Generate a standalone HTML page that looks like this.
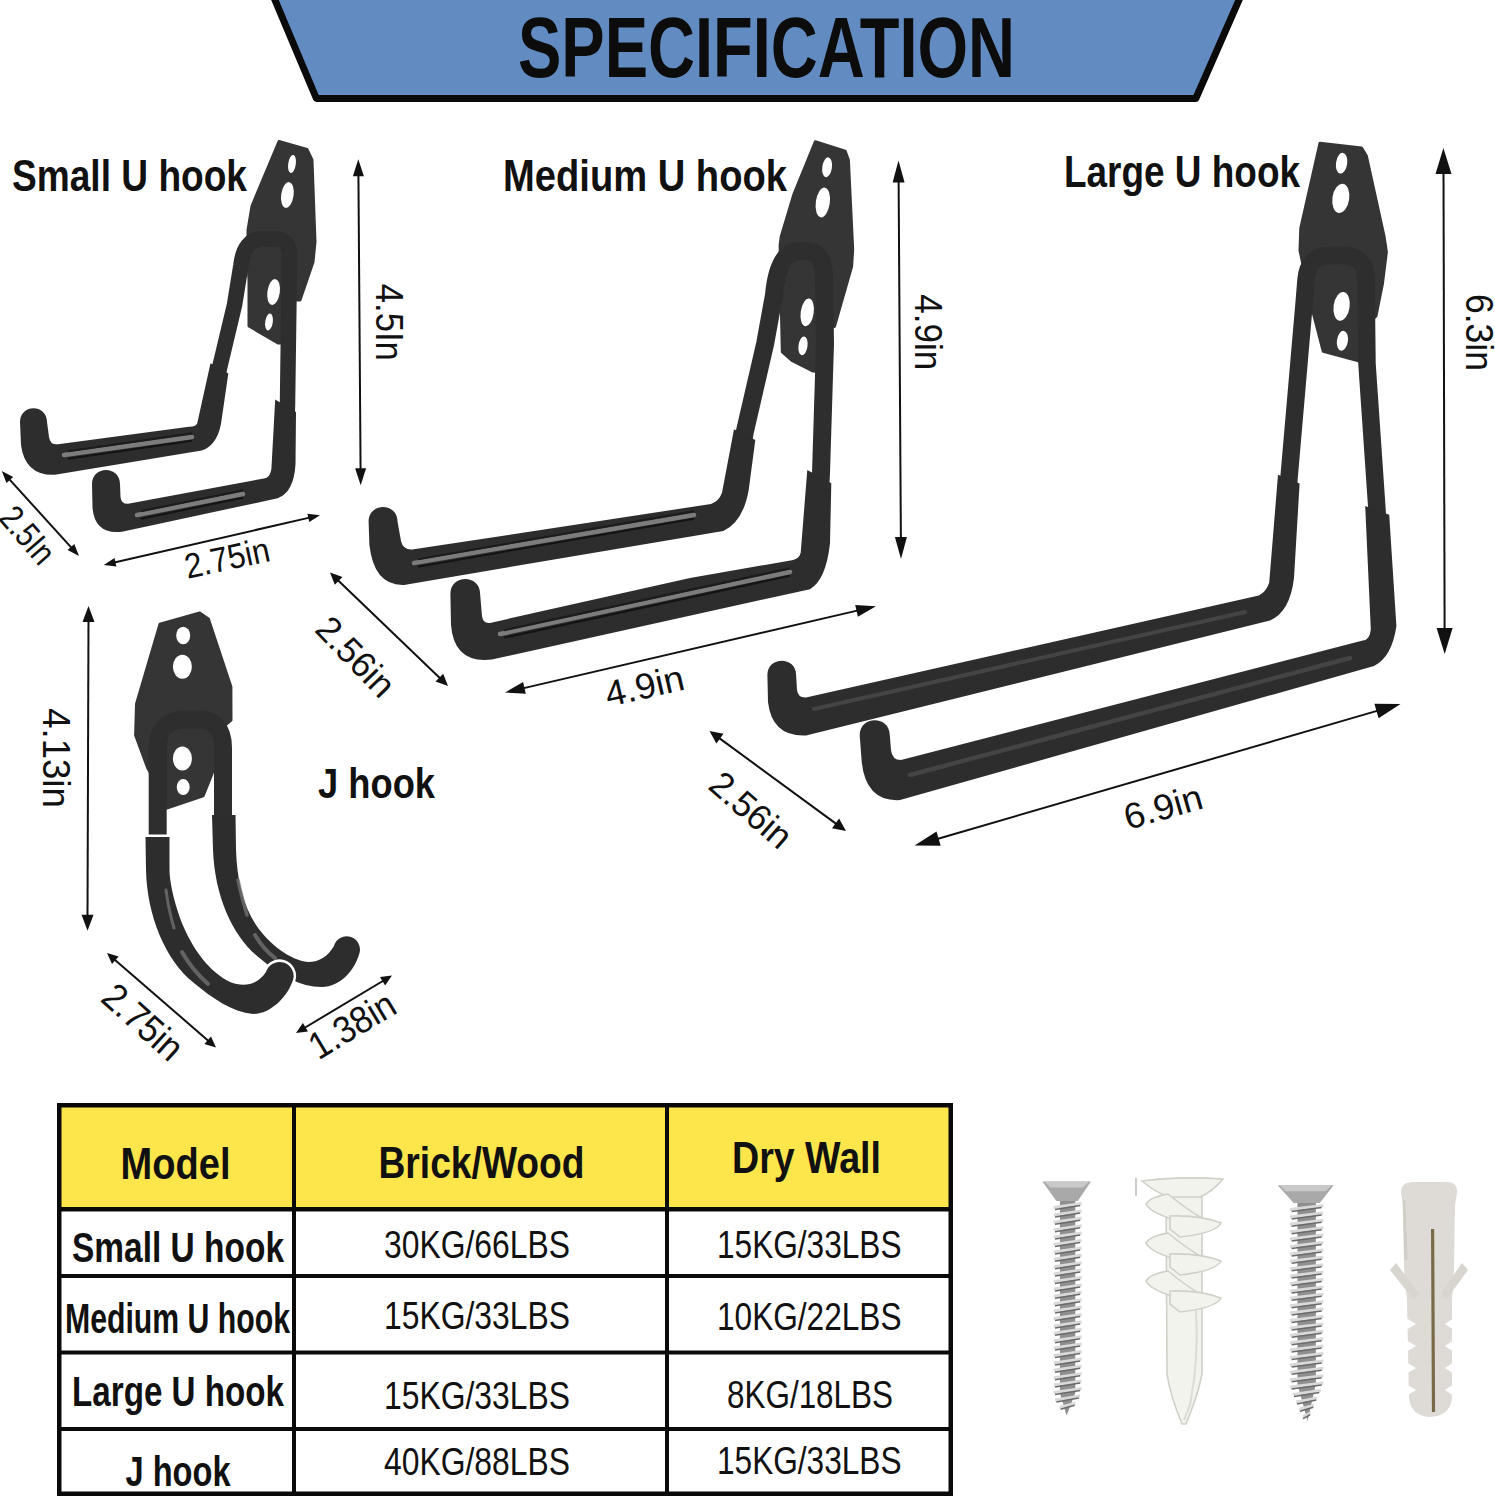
<!DOCTYPE html>
<html><head><meta charset="utf-8"><style>
html,body{margin:0;padding:0;background:#fff;}
body{width:1495px;height:1500px;overflow:hidden;}
svg{display:block;font-family:"Liberation Sans",sans-serif;}
</style></head><body>
<svg width="1495" height="1500" viewBox="0 0 1495 1500">
<rect width="1495" height="1500" fill="#fff"/>
<polygon points="271.6,-8 1242.5,-8 1195.8,98.5 316.4,98.5" fill="#628cc1" stroke="#0a0a0a" stroke-width="7" stroke-linejoin="round"/>
<text x="518" y="77" font-size="86" font-weight="bold" textLength="497" lengthAdjust="spacingAndGlyphs" fill="#0c0c0c">SPECIFICATION</text>
<text x="12" y="191" font-size="45" font-weight="bold" textLength="235" lengthAdjust="spacingAndGlyphs" fill="#111">Small U hook</text>
<text x="503" y="191" font-size="45" font-weight="bold" textLength="284" lengthAdjust="spacingAndGlyphs" fill="#111">Medium U hook</text>
<text x="1064" y="187" font-size="45" font-weight="bold" textLength="236" lengthAdjust="spacingAndGlyphs" fill="#111">Large U hook</text>
<text x="318" y="798" font-size="42" font-weight="bold" textLength="117" lengthAdjust="spacingAndGlyphs" fill="#111">J hook</text>
<polygon points="279,141.5 307,149.5 312,160 315,242 313,262 300,300 288,300 288,343 278,343 249,326 249,280 248,262 248,230 252,206" fill="#353535" stroke="#353535" stroke-width="3" stroke-linejoin="round"/>
<ellipse cx="292" cy="164" rx="3.8" ry="9" fill="#fff" transform="rotate(8 292 164)"/>
<ellipse cx="287.4" cy="195" rx="6.2" ry="13" fill="#fff" transform="rotate(8 287.4 195)"/>
<ellipse cx="273.6" cy="292" rx="6.2" ry="13" fill="#fff" transform="rotate(8 273.6 292)"/>
<ellipse cx="269" cy="322" rx="3.8" ry="8.5" fill="#fff" transform="rotate(8 269 322)"/>
<path d="M 217,382 L 219.5,368 L 234.5,305 L 241,265 Q 244,239 262,239 L 278,239 Q 289.5,240 289.5,258 L 287.5,404 L 287,420" fill="none" stroke="#2e2e2e" stroke-width="15.5" stroke-linecap="butt" stroke-linejoin="round"/>
<path d="M 210.5,363.3 L 197.2,423.5 Q 195,427 189,426.7 L 58,444.3 Q 50,445 49,437 L 47,422 C 47,403.5 20,403.5 20,422 L 21,445 Q 25,476 55,474.8 L 201.7,450.6 Q 219,445 222,417 L 228.3,373.4 Z" fill="#2d2d2d"/>
<path d="M 275.2,399.4 L 271.4,469 Q 270,478 263.8,478.5 L 128,503.8 Q 121,504 120.5,497 L 120,484 C 120,465.3 92,465.3 92,484 L 92.5,508 Q 95,535 122,531.7 L 277.7,498.3 Q 294,492 295.5,464 L 296,412 Z" fill="#2d2d2d"/>
<path d="M 64,455 L 192,437" fill="none" stroke="#7c7c7c" stroke-width="4.5" stroke-linecap="round"/>
<path d="M 68,458.75 L 192,440.75" fill="none" stroke="#141414" stroke-width="2"/>
<path d="M 68,451.25 L 192,433.25" fill="none" stroke="#1c1c1c" stroke-width="2"/>
<path d="M 137,515 L 243,494" fill="none" stroke="#7c7c7c" stroke-width="4.5" stroke-linecap="round"/>
<path d="M 141,518.75 L 243,497.75" fill="none" stroke="#141414" stroke-width="2"/>
<path d="M 141,511.25 L 243,490.25" fill="none" stroke="#1c1c1c" stroke-width="2"/>
<line x1="358.4" y1="172.8" x2="360.6" y2="471.7" stroke="#111" stroke-width="2"/>
<polygon points="358.3,159.2 352.9,176.2 363.9,176.2" fill="#111"/>
<polygon points="360.7,485.3 355.1,468.3 366.1,468.3" fill="#111"/>
<line x1="8.3" y1="478.1" x2="72.5" y2="548.9" stroke="#111" stroke-width="2"/>
<polygon points="1.8,471.0 6.5,482.9 13.2,476.9" fill="#111"/>
<polygon points="79.0,556.0 67.6,550.1 74.3,544.1" fill="#111"/>
<line x1="113.2" y1="562.7" x2="310.6" y2="517.4" stroke="#111" stroke-width="2"/>
<polygon points="103.8,564.9 116.4,566.4 114.5,558.1" fill="#111"/>
<polygon points="320.0,515.2 309.3,522.0 307.4,513.7" fill="#111"/>
<text transform="translate(389 322.3) rotate(90)" x="0" y="13.072" font-size="38" font-weight="normal" text-anchor="middle" textLength="77" lengthAdjust="spacingAndGlyphs" fill="#111">4.5In</text>
<text transform="translate(27.5 535) rotate(49)" x="0" y="12.04" font-size="35" font-weight="normal" text-anchor="middle" textLength="64" lengthAdjust="spacingAndGlyphs" fill="#111">2.5In</text>
<text transform="translate(227 558) rotate(-12)" x="0" y="12.04" font-size="35" font-weight="normal" text-anchor="middle" textLength="86" lengthAdjust="spacingAndGlyphs" fill="#111">2.75in</text>
<polygon points="815.3,141.7 845.2,151.3 848.4,160 852.7,249.5 851.6,266.5 834.5,326.3 822,330 822,372 813.2,371.1 791.9,360.4 782.3,351.9 781.2,300.7 780.1,245.2 781.2,236.7 794,194" fill="#353535" stroke="#353535" stroke-width="3" stroke-linejoin="round"/>
<ellipse cx="827.1" cy="167.3" rx="4.8" ry="10" fill="#fff" transform="rotate(8 827.1 167.3)"/>
<ellipse cx="822.8" cy="202.5" rx="7" ry="15" fill="#fff" transform="rotate(8 822.8 202.5)"/>
<ellipse cx="807.2" cy="312.4" rx="6.5" ry="14" fill="#fff" transform="rotate(8 807.2 312.4)"/>
<ellipse cx="803" cy="345.9" rx="4.5" ry="9.5" fill="#fff" transform="rotate(8 803 345.9)"/>
<path d="M 742,448 L 745,431 L 765.2,343.4 L 774,295 Q 778,251 800,251 L 806,251 Q 824,251 824,278 L 825,343.4 L 821,473 L 820,492" fill="none" stroke="#2e2e2e" stroke-width="18" stroke-linecap="butt" stroke-linejoin="round"/>
<path d="M 734,429.3 L 722,492.7 Q 719,501 711,504 L 412,549.6 Q 403,550 401,541 L 397.5,521.5 C 397.5,502.2 368.6,502.2 368.6,521.5 L 369.4,545 Q 374,586 404,584.9 L 723.3,531 Q 743,522 748.7,490 L 755.3,440 Z" fill="#2d2d2d"/>
<path d="M 807.3,470 L 800.7,552.7 Q 799,559 792,560.2 L 690,578 L 490,622.9 Q 483,624 482,616 L 480.1,593.8 C 480.1,574 450.4,574 450.4,593.8 L 451,625 Q 454,664 492,659.5 L 810,589.2 Q 826,580 830,543.3 L 831.3,483.3 Z" fill="#2d2d2d"/>
<path d="M 414,563 L 694,515" fill="none" stroke="#7c7c7c" stroke-width="4.5" stroke-linecap="round"/>
<path d="M 418,566.75 L 694,518.75" fill="none" stroke="#141414" stroke-width="2"/>
<path d="M 418,559.25 L 694,511.25" fill="none" stroke="#1c1c1c" stroke-width="2"/>
<path d="M 500,634 L 790,572" fill="none" stroke="#7c7c7c" stroke-width="4.5" stroke-linecap="round"/>
<path d="M 504,637.75 L 790,575.75" fill="none" stroke="#141414" stroke-width="2"/>
<path d="M 504,630.25 L 790,568.25" fill="none" stroke="#1c1c1c" stroke-width="2"/>
<line x1="898.6" y1="178.1" x2="900.9" y2="541.4" stroke="#111" stroke-width="2"/>
<polygon points="898.5,160.5 892.6,182.5 904.6,182.5" fill="#111"/>
<polygon points="901.0,559.0 894.9,537.0 906.9,537.0" fill="#111"/>
<line x1="520.6" y1="688.9" x2="860.4" y2="609.9" stroke="#111" stroke-width="2"/>
<polygon points="505.0,692.5 525.8,693.8 523.1,682.1" fill="#111"/>
<polygon points="876.0,606.3 857.9,616.7 855.2,605.0" fill="#111"/>
<line x1="336.9" y1="579.2" x2="441.1" y2="679.3" stroke="#111" stroke-width="2"/>
<polygon points="330.0,572.5 334.8,584.8 342.5,576.9" fill="#111"/>
<polygon points="448.0,686.0 435.5,681.6 443.2,673.7" fill="#111"/>
<text transform="translate(928.4 332.2) rotate(90)" x="0" y="13.072" font-size="38" font-weight="normal" text-anchor="middle" textLength="76" lengthAdjust="spacingAndGlyphs" fill="#111">4.9in</text>
<text transform="translate(644.5 686) rotate(-13)" x="0" y="12.384" font-size="36" font-weight="normal" text-anchor="middle" textLength="80" lengthAdjust="spacingAndGlyphs" fill="#111">4.9in</text>
<text transform="translate(355.7 656.7) rotate(46)" x="0" y="12.384" font-size="36" font-weight="normal" text-anchor="middle" textLength="96" lengthAdjust="spacingAndGlyphs" fill="#111">2.56in</text>
<polygon points="1320,143.2 1361.6,148 1366.4,156 1384,236 1386.4,252 1382.4,284 1376,316 1362,330 1362,363 1358.4,360.8 1323.2,351.2 1312,308 1300,250.4 1300.8,228" fill="#353535" stroke="#353535" stroke-width="3" stroke-linejoin="round"/>
<ellipse cx="1341.6" cy="163.2" rx="5.6" ry="10.4" fill="#fff" transform="rotate(8 1341.6 163.2)"/>
<ellipse cx="1340.8" cy="198.4" rx="8.4" ry="14.8" fill="#fff" transform="rotate(8 1340.8 198.4)"/>
<ellipse cx="1341.6" cy="306.4" rx="8" ry="14.5" fill="#fff" transform="rotate(8 1341.6 306.4)"/>
<ellipse cx="1342.4" cy="340.8" rx="5.5" ry="10" fill="#fff" transform="rotate(8 1342.4 340.8)"/>
<path d="M 1288,494 L 1289,478 L 1304.4,300 L 1306,280 Q 1308,255.6 1330,255.6 L 1343,255.6 Q 1366,255.6 1366,280 L 1367,364 L 1377,510 L 1378,527" fill="none" stroke="#2e2e2e" stroke-width="17.5" stroke-linecap="butt" stroke-linejoin="round"/>
<path d="M 1278,474.8 L 1269.2,582.8 Q 1266,592 1258.8,595.5 L 806,697.5 Q 798,698 797,690 L 796.1,675 C 796.1,656 767.4,656 767.4,675 L 768,702 Q 772,737 806,735.5 L 1270,620.4 Q 1290,612 1294,578 L 1299.6,483.6 Z" fill="#2d2d2d"/>
<path d="M 1365.2,506 L 1370.8,629.2 Q 1370,640 1362.8,640.5 L 901,760 Q 892,760 891,750 L 889.8,735.3 C 889.8,715.3 859.7,715.3 859.7,735.3 L 861.7,762 Q 866,802 900,800.1 L 1374,666 Q 1392,657 1396.4,626 L 1389.2,514.8 Z" fill="#2d2d2d"/>
<path d="M 814,709 L 1245,612" fill="none" stroke="#444444" stroke-width="4" stroke-linecap="round" opacity="1"/>
<path d="M 910,775 L 1350,658" fill="none" stroke="#444444" stroke-width="4.5" stroke-linecap="round" opacity="1"/>
<line x1="1443.5" y1="168.8" x2="1444.6" y2="633.2" stroke="#111" stroke-width="2"/>
<polygon points="1443.4,148.0 1435.5,174.0 1451.5,174.0" fill="#111"/>
<polygon points="1444.7,654.0 1436.6,628.0 1452.6,628.0" fill="#111"/>
<line x1="717.9" y1="737.1" x2="837.6" y2="824.9" stroke="#111" stroke-width="2"/>
<polygon points="709.5,731.0 716.4,743.5 723.5,733.8" fill="#111"/>
<polygon points="846.0,831.0 832.0,828.2 839.1,818.5" fill="#111"/>
<line x1="933.8" y1="840.0" x2="1381.3" y2="709.6" stroke="#111" stroke-width="2"/>
<polygon points="914.6,845.6 940.7,845.8 936.5,831.4" fill="#111"/>
<polygon points="1400.5,704.0 1378.6,718.2 1374.4,703.8" fill="#111"/>
<text transform="translate(1479 332.4) rotate(90)" x="0" y="13.072" font-size="38" font-weight="normal" text-anchor="middle" textLength="77" lengthAdjust="spacingAndGlyphs" fill="#111">6.3in</text>
<text transform="translate(751 810) rotate(41)" x="0" y="12.384" font-size="36" font-weight="normal" text-anchor="middle" textLength="96" lengthAdjust="spacingAndGlyphs" fill="#111">2.56in</text>
<text transform="translate(1163 807) rotate(-16)" x="0" y="12.384" font-size="36" font-weight="normal" text-anchor="middle" textLength="80" lengthAdjust="spacingAndGlyphs" fill="#111">6.9in</text>
<polygon points="159.9,624.3 199.7,613 208.4,619 230.9,686.6 231,720 213.6,735 213.6,769.8 203.2,795.8 166.8,808 160,790 147.7,768 135.6,735.2 136.5,704" fill="#353535" stroke="#353535" stroke-width="3" stroke-linejoin="round"/>
<ellipse cx="183.2" cy="635.5" rx="7" ry="8.7" fill="#fff" transform="rotate(0 183.2 635.5)"/>
<ellipse cx="182.4" cy="666.7" rx="9.5" ry="12" fill="#fff" transform="rotate(0 182.4 666.7)"/>
<ellipse cx="182.4" cy="758.6" rx="9.5" ry="12" fill="#fff" transform="rotate(0 182.4 758.6)"/>
<ellipse cx="183.2" cy="787.1" rx="6.5" ry="8" fill="#fff" transform="rotate(0 183.2 787.1)"/>
<path d="M 157.7,840 L 157.7,748 Q 158,719.5 186,719.5 L 198,719.5 Q 223,719.5 223,748 L 223,816" fill="none" stroke="#2e2e2e" stroke-width="18" stroke-linecap="butt" stroke-linejoin="round"/>
<path d="M 212,815 L 213,850 C 215,900 235,940 262,960 C 280,975 300,987 322,987 C 340,987 355,970 359.5,953 A 13 13 0 0 0 334,946 C 328,956 320,962 308,962 C 290,960 270,945 256,925 C 243,905 237,880 236,850 L 235.5,815 Z" fill="#2d2d2d"/>
<path d="M 145.5,837 L 146,870 C 147,915 165,960 194,983 C 212,998 232,1012 253,1014 C 270,1014 287,998 293,980 A 14 14 0 0 0 266,972 C 258,984 245,988 230,982 C 210,972 192,950 180,918 C 173,898 169.5,880 169.5,870 L 169.5,837 Z" fill="#2d2d2d" stroke="#ffffff" stroke-width="5" paint-order="stroke"/>
<path d="M 166,890 C 168,905 170,915 174,928" fill="none" stroke="#707070" stroke-width="3" stroke-linecap="round" opacity="0.8"/>
<path d="M 182,952 C 190,966 198,975 208,984" fill="none" stroke="#707070" stroke-width="4" stroke-linecap="round" opacity="0.8"/>
<path d="M 238,880 C 241,895 244,905 247,915" fill="none" stroke="#707070" stroke-width="3.5" stroke-linecap="round" opacity="0.8"/>
<path d="M 255,935 C 261,945 267,952 275,958" fill="none" stroke="#707070" stroke-width="4" stroke-linecap="round" opacity="0.8"/>
<line x1="88.5" y1="618.8" x2="87.5" y2="917.9" stroke="#111" stroke-width="2"/>
<polygon points="88.5,606.0 82.5,622.0 94.5,622.0" fill="#111"/>
<polygon points="87.5,930.7 81.5,914.7 93.5,914.7" fill="#111"/>
<line x1="113.6" y1="958.8" x2="209.4" y2="1041.7" stroke="#111" stroke-width="2"/>
<polygon points="107.0,953.0 112.0,964.0 118.6,956.4" fill="#111"/>
<polygon points="216.0,1047.5 204.4,1044.1 211.0,1036.5" fill="#111"/>
<line x1="303.5" y1="1028.5" x2="384.5" y2="980.0" stroke="#111" stroke-width="2"/>
<polygon points="296.0,1033.0 308.0,1031.6 302.9,1023.1" fill="#111"/>
<polygon points="392.0,975.5 385.1,985.4 380.0,976.9" fill="#111"/>
<text transform="translate(56 758) rotate(90)" x="0" y="13.072" font-size="38" font-weight="normal" text-anchor="middle" textLength="99.5" lengthAdjust="spacingAndGlyphs" fill="#111">4.13in</text>
<text transform="translate(143 1022) rotate(42)" x="0" y="13.072" font-size="38" font-weight="normal" text-anchor="middle" textLength="94" lengthAdjust="spacingAndGlyphs" fill="#111">2.75in</text>
<text transform="translate(352 1025) rotate(-31)" x="0" y="13.072" font-size="38" font-weight="normal" text-anchor="middle" textLength="94" lengthAdjust="spacingAndGlyphs" fill="#111">1.38in</text>
<rect x="59" y="1105" width="892" height="104" fill="#fde54c"/>
<rect x="57" y="1103" width="896" height="4.5" fill="#0a0a0a"/>
<rect x="57" y="1207" width="896" height="4.5" fill="#0a0a0a"/>
<rect x="57" y="1274" width="896" height="4" fill="#0a0a0a"/>
<rect x="57" y="1350.5" width="896" height="4" fill="#0a0a0a"/>
<rect x="57" y="1427" width="896" height="4" fill="#0a0a0a"/>
<rect x="57" y="1491.5" width="896" height="4.5" fill="#0a0a0a"/>
<rect x="57" y="1103" width="4.5" height="393" fill="#0a0a0a"/>
<rect x="292" y="1103" width="4" height="393" fill="#0a0a0a"/>
<rect x="665" y="1103" width="4" height="393" fill="#0a0a0a"/>
<rect x="948.5" y="1103" width="4.5" height="393" fill="#0a0a0a"/>
<text x="120.5" y="1178.5" font-size="45" font-weight="bold" textLength="110" lengthAdjust="spacingAndGlyphs" fill="#111">Model</text>
<text x="378.5" y="1177.6" font-size="45" font-weight="bold" textLength="206" lengthAdjust="spacingAndGlyphs" fill="#111">Brick/Wood</text>
<text x="732" y="1173" font-size="45" font-weight="bold" textLength="149" lengthAdjust="spacingAndGlyphs" fill="#111">Dry Wall</text>
<text x="72" y="1262" font-size="43" font-weight="bold" textLength="212" lengthAdjust="spacingAndGlyphs" fill="#111">Small U hook</text>
<text x="65" y="1332.5" font-size="43" font-weight="bold" textLength="225" lengthAdjust="spacingAndGlyphs" fill="#111">Medium U hook</text>
<text x="72" y="1406" font-size="43" font-weight="bold" textLength="212" lengthAdjust="spacingAndGlyphs" fill="#111">Large U hook</text>
<text x="125.5" y="1486" font-size="43" font-weight="bold" textLength="105" lengthAdjust="spacingAndGlyphs" fill="#111">J hook</text>
<text x="384" y="1258.3" font-size="38.5" font-weight="normal" textLength="186" lengthAdjust="spacingAndGlyphs" fill="#111">30KG/66LBS</text>
<text x="384" y="1328.7" font-size="38.5" font-weight="normal" textLength="186" lengthAdjust="spacingAndGlyphs" fill="#111">15KG/33LBS</text>
<text x="384" y="1409" font-size="38.5" font-weight="normal" textLength="186" lengthAdjust="spacingAndGlyphs" fill="#111">15KG/33LBS</text>
<text x="384" y="1474.6" font-size="38.5" font-weight="normal" textLength="186" lengthAdjust="spacingAndGlyphs" fill="#111">40KG/88LBS</text>
<text x="717" y="1257.7" font-size="38.5" font-weight="normal" textLength="184.5" lengthAdjust="spacingAndGlyphs" fill="#111">15KG/33LBS</text>
<text x="717" y="1330" font-size="38.5" font-weight="normal" textLength="184.5" lengthAdjust="spacingAndGlyphs" fill="#111">10KG/22LBS</text>
<text x="727" y="1408" font-size="38.5" font-weight="normal" textLength="166" lengthAdjust="spacingAndGlyphs" fill="#111">8KG/18LBS</text>
<text x="717" y="1474" font-size="38.5" font-weight="normal" textLength="184.5" lengthAdjust="spacingAndGlyphs" fill="#111">15KG/33LBS</text>
<polygon points="1042.4,1181.5 1091,1181.5 1077.8,1201 1056.4,1201" fill="#a9a9a9"/>
<polygon points="1044.4,1181.5 1089,1181.5 1083,1187.5 1050.4,1187.5" fill="#c9c9c9"/>
<polygon points="1059.9,1201 1075.3,1201 1075.3,1393 1066.6,1415.6 1059.9,1393" fill="#8f8f8f"/>
<polygon points="1053.6,1206.0 1081.6,1202.0 1081.6,1205.0 1053.6,1209.0" fill="#d9d9d9"/>
<path d="M 1055.0,1209.5 L 1080.2,1205.5" stroke="#6b6b6b" stroke-width="1.5"/>
<polygon points="1053.6,1213.4 1081.6,1209.4 1081.6,1212.4 1053.6,1216.4" fill="#d9d9d9"/>
<path d="M 1055.0,1216.9 L 1080.2,1212.9" stroke="#6b6b6b" stroke-width="1.5"/>
<polygon points="1053.6,1220.8 1081.6,1216.8 1081.6,1219.8 1053.6,1223.8" fill="#d9d9d9"/>
<path d="M 1055.0,1224.3 L 1080.2,1220.3" stroke="#6b6b6b" stroke-width="1.5"/>
<polygon points="1053.6,1228.2 1081.6,1224.2 1081.6,1227.2 1053.6,1231.2" fill="#d9d9d9"/>
<path d="M 1055.0,1231.7 L 1080.2,1227.7" stroke="#6b6b6b" stroke-width="1.5"/>
<polygon points="1053.6,1235.6 1081.6,1231.6 1081.6,1234.6 1053.6,1238.6" fill="#d9d9d9"/>
<path d="M 1055.0,1239.1 L 1080.2,1235.1" stroke="#6b6b6b" stroke-width="1.5"/>
<polygon points="1053.6,1243.0 1081.6,1239.0 1081.6,1242.0 1053.6,1246.0" fill="#d9d9d9"/>
<path d="M 1055.0,1246.5 L 1080.2,1242.5" stroke="#6b6b6b" stroke-width="1.5"/>
<polygon points="1053.6,1250.4 1081.6,1246.4 1081.6,1249.4 1053.6,1253.4" fill="#d9d9d9"/>
<path d="M 1055.0,1253.9 L 1080.2,1249.9" stroke="#6b6b6b" stroke-width="1.5"/>
<polygon points="1053.6,1257.8 1081.6,1253.8 1081.6,1256.8 1053.6,1260.8" fill="#d9d9d9"/>
<path d="M 1055.0,1261.3 L 1080.2,1257.3" stroke="#6b6b6b" stroke-width="1.5"/>
<polygon points="1053.6,1265.2 1081.6,1261.2 1081.6,1264.2 1053.6,1268.2" fill="#d9d9d9"/>
<path d="M 1055.0,1268.7 L 1080.2,1264.7" stroke="#6b6b6b" stroke-width="1.5"/>
<polygon points="1053.6,1272.6 1081.6,1268.6 1081.6,1271.6 1053.6,1275.6" fill="#d9d9d9"/>
<path d="M 1055.0,1276.1 L 1080.2,1272.1" stroke="#6b6b6b" stroke-width="1.5"/>
<polygon points="1053.6,1280.0 1081.6,1276.0 1081.6,1279.0 1053.6,1283.0" fill="#d9d9d9"/>
<path d="M 1055.0,1283.5 L 1080.2,1279.5" stroke="#6b6b6b" stroke-width="1.5"/>
<polygon points="1053.6,1287.4 1081.6,1283.4 1081.6,1286.4 1053.6,1290.4" fill="#d9d9d9"/>
<path d="M 1055.0,1290.9 L 1080.2,1286.9" stroke="#6b6b6b" stroke-width="1.5"/>
<polygon points="1053.6,1294.8 1081.6,1290.8 1081.6,1293.8 1053.6,1297.8" fill="#d9d9d9"/>
<path d="M 1055.0,1298.3 L 1080.2,1294.3" stroke="#6b6b6b" stroke-width="1.5"/>
<polygon points="1053.6,1302.2 1081.6,1298.2 1081.6,1301.2 1053.6,1305.2" fill="#d9d9d9"/>
<path d="M 1055.0,1305.7 L 1080.2,1301.7" stroke="#6b6b6b" stroke-width="1.5"/>
<polygon points="1053.6,1309.6 1081.6,1305.6 1081.6,1308.6 1053.6,1312.6" fill="#d9d9d9"/>
<path d="M 1055.0,1313.1 L 1080.2,1309.1" stroke="#6b6b6b" stroke-width="1.5"/>
<polygon points="1053.6,1317.0 1081.6,1313.0 1081.6,1316.0 1053.6,1320.0" fill="#d9d9d9"/>
<path d="M 1055.0,1320.5 L 1080.2,1316.5" stroke="#6b6b6b" stroke-width="1.5"/>
<polygon points="1053.6,1324.4 1081.6,1320.4 1081.6,1323.4 1053.6,1327.4" fill="#d9d9d9"/>
<path d="M 1055.0,1327.9 L 1080.2,1323.9" stroke="#6b6b6b" stroke-width="1.5"/>
<polygon points="1053.6,1331.8 1081.6,1327.8 1081.6,1330.8 1053.6,1334.8" fill="#d9d9d9"/>
<path d="M 1055.0,1335.3 L 1080.2,1331.3" stroke="#6b6b6b" stroke-width="1.5"/>
<polygon points="1053.6,1339.2 1081.6,1335.2 1081.6,1338.2 1053.6,1342.2" fill="#d9d9d9"/>
<path d="M 1055.0,1342.7 L 1080.2,1338.7" stroke="#6b6b6b" stroke-width="1.5"/>
<polygon points="1053.6,1346.6 1081.6,1342.6 1081.6,1345.6 1053.6,1349.6" fill="#d9d9d9"/>
<path d="M 1055.0,1350.1 L 1080.2,1346.1" stroke="#6b6b6b" stroke-width="1.5"/>
<polygon points="1053.6,1354.0 1081.6,1350.0 1081.6,1353.0 1053.6,1357.0" fill="#d9d9d9"/>
<path d="M 1055.0,1357.5 L 1080.2,1353.5" stroke="#6b6b6b" stroke-width="1.5"/>
<polygon points="1053.6,1361.4 1081.6,1357.4 1081.6,1360.4 1053.6,1364.4" fill="#d9d9d9"/>
<path d="M 1055.0,1364.9 L 1080.2,1360.9" stroke="#6b6b6b" stroke-width="1.5"/>
<polygon points="1053.6,1368.8 1081.6,1364.8 1081.6,1367.8 1053.6,1371.8" fill="#d9d9d9"/>
<path d="M 1055.0,1372.3 L 1080.2,1368.3" stroke="#6b6b6b" stroke-width="1.5"/>
<polygon points="1053.6,1376.2 1081.6,1372.2 1081.6,1375.2 1053.6,1379.2" fill="#d9d9d9"/>
<path d="M 1055.0,1379.7 L 1080.2,1375.7" stroke="#6b6b6b" stroke-width="1.5"/>
<polygon points="1053.6,1383.6 1081.6,1379.6 1081.6,1382.6 1053.6,1386.6" fill="#d9d9d9"/>
<path d="M 1055.0,1387.1 L 1080.2,1383.1" stroke="#6b6b6b" stroke-width="1.5"/>
<polygon points="1053.6,1391.0 1081.6,1387.0 1081.6,1390.0 1053.6,1394.0" fill="#d9d9d9"/>
<path d="M 1055.0,1394.5 L 1080.2,1390.5" stroke="#6b6b6b" stroke-width="1.5"/>
<polygon points="1055.1,1398.4 1080.1,1394.4 1080.1,1397.4 1055.1,1401.4" fill="#d9d9d9"/>
<path d="M 1056.3,1401.9 L 1078.9,1397.9" stroke="#6b6b6b" stroke-width="1.5"/>
<polygon points="1059.7,1405.8 1075.5,1401.8 1075.5,1404.8 1059.7,1408.8" fill="#d9d9d9"/>
<path d="M 1060.5,1409.3 L 1074.7,1405.3" stroke="#6b6b6b" stroke-width="1.5"/>
<polygon points="1277.7,1185.2 1333.7,1185.2 1319.7,1203 1293.6,1203" fill="#a9a9a9"/>
<polygon points="1279.7,1185.2 1331.7,1185.2 1325.7,1191.2 1285.7,1191.2" fill="#c9c9c9"/>
<polygon points="1297.44,1203 1315.86,1203 1315.86,1384 1307.6,1421 1297.44,1384" fill="#8f8f8f"/>
<polygon points="1289.9,1208.0 1323.4,1204.0 1323.4,1207.0 1289.9,1211.0" fill="#d9d9d9"/>
<path d="M 1291.6,1211.5 L 1321.7,1207.5" stroke="#6b6b6b" stroke-width="1.5"/>
<polygon points="1289.9,1215.4 1323.4,1211.4 1323.4,1214.4 1289.9,1218.4" fill="#d9d9d9"/>
<path d="M 1291.6,1218.9 L 1321.7,1214.9" stroke="#6b6b6b" stroke-width="1.5"/>
<polygon points="1289.9,1222.8 1323.4,1218.8 1323.4,1221.8 1289.9,1225.8" fill="#d9d9d9"/>
<path d="M 1291.6,1226.3 L 1321.7,1222.3" stroke="#6b6b6b" stroke-width="1.5"/>
<polygon points="1289.9,1230.2 1323.4,1226.2 1323.4,1229.2 1289.9,1233.2" fill="#d9d9d9"/>
<path d="M 1291.6,1233.7 L 1321.7,1229.7" stroke="#6b6b6b" stroke-width="1.5"/>
<polygon points="1289.9,1237.6 1323.4,1233.6 1323.4,1236.6 1289.9,1240.6" fill="#d9d9d9"/>
<path d="M 1291.6,1241.1 L 1321.7,1237.1" stroke="#6b6b6b" stroke-width="1.5"/>
<polygon points="1289.9,1245.0 1323.4,1241.0 1323.4,1244.0 1289.9,1248.0" fill="#d9d9d9"/>
<path d="M 1291.6,1248.5 L 1321.7,1244.5" stroke="#6b6b6b" stroke-width="1.5"/>
<polygon points="1289.9,1252.4 1323.4,1248.4 1323.4,1251.4 1289.9,1255.4" fill="#d9d9d9"/>
<path d="M 1291.6,1255.9 L 1321.7,1251.9" stroke="#6b6b6b" stroke-width="1.5"/>
<polygon points="1289.9,1259.8 1323.4,1255.8 1323.4,1258.8 1289.9,1262.8" fill="#d9d9d9"/>
<path d="M 1291.6,1263.3 L 1321.7,1259.3" stroke="#6b6b6b" stroke-width="1.5"/>
<polygon points="1289.9,1267.2 1323.4,1263.2 1323.4,1266.2 1289.9,1270.2" fill="#d9d9d9"/>
<path d="M 1291.6,1270.7 L 1321.7,1266.7" stroke="#6b6b6b" stroke-width="1.5"/>
<polygon points="1289.9,1274.6 1323.4,1270.6 1323.4,1273.6 1289.9,1277.6" fill="#d9d9d9"/>
<path d="M 1291.6,1278.1 L 1321.7,1274.1" stroke="#6b6b6b" stroke-width="1.5"/>
<polygon points="1289.9,1282.0 1323.4,1278.0 1323.4,1281.0 1289.9,1285.0" fill="#d9d9d9"/>
<path d="M 1291.6,1285.5 L 1321.7,1281.5" stroke="#6b6b6b" stroke-width="1.5"/>
<polygon points="1289.9,1289.4 1323.4,1285.4 1323.4,1288.4 1289.9,1292.4" fill="#d9d9d9"/>
<path d="M 1291.6,1292.9 L 1321.7,1288.9" stroke="#6b6b6b" stroke-width="1.5"/>
<polygon points="1289.9,1296.8 1323.4,1292.8 1323.4,1295.8 1289.9,1299.8" fill="#d9d9d9"/>
<path d="M 1291.6,1300.3 L 1321.7,1296.3" stroke="#6b6b6b" stroke-width="1.5"/>
<polygon points="1289.9,1304.2 1323.4,1300.2 1323.4,1303.2 1289.9,1307.2" fill="#d9d9d9"/>
<path d="M 1291.6,1307.7 L 1321.7,1303.7" stroke="#6b6b6b" stroke-width="1.5"/>
<polygon points="1289.9,1311.6 1323.4,1307.6 1323.4,1310.6 1289.9,1314.6" fill="#d9d9d9"/>
<path d="M 1291.6,1315.1 L 1321.7,1311.1" stroke="#6b6b6b" stroke-width="1.5"/>
<polygon points="1289.9,1319.0 1323.4,1315.0 1323.4,1318.0 1289.9,1322.0" fill="#d9d9d9"/>
<path d="M 1291.6,1322.5 L 1321.7,1318.5" stroke="#6b6b6b" stroke-width="1.5"/>
<polygon points="1289.9,1326.4 1323.4,1322.4 1323.4,1325.4 1289.9,1329.4" fill="#d9d9d9"/>
<path d="M 1291.6,1329.9 L 1321.7,1325.9" stroke="#6b6b6b" stroke-width="1.5"/>
<polygon points="1289.9,1333.8 1323.4,1329.8 1323.4,1332.8 1289.9,1336.8" fill="#d9d9d9"/>
<path d="M 1291.6,1337.3 L 1321.7,1333.3" stroke="#6b6b6b" stroke-width="1.5"/>
<polygon points="1289.9,1341.2 1323.4,1337.2 1323.4,1340.2 1289.9,1344.2" fill="#d9d9d9"/>
<path d="M 1291.6,1344.7 L 1321.7,1340.7" stroke="#6b6b6b" stroke-width="1.5"/>
<polygon points="1289.9,1348.6 1323.4,1344.6 1323.4,1347.6 1289.9,1351.6" fill="#d9d9d9"/>
<path d="M 1291.6,1352.1 L 1321.7,1348.1" stroke="#6b6b6b" stroke-width="1.5"/>
<polygon points="1289.9,1356.0 1323.4,1352.0 1323.4,1355.0 1289.9,1359.0" fill="#d9d9d9"/>
<path d="M 1291.6,1359.5 L 1321.7,1355.5" stroke="#6b6b6b" stroke-width="1.5"/>
<polygon points="1289.9,1363.4 1323.4,1359.4 1323.4,1362.4 1289.9,1366.4" fill="#d9d9d9"/>
<path d="M 1291.6,1366.9 L 1321.7,1362.9" stroke="#6b6b6b" stroke-width="1.5"/>
<polygon points="1289.9,1370.8 1323.4,1366.8 1323.4,1369.8 1289.9,1373.8" fill="#d9d9d9"/>
<path d="M 1291.6,1374.3 L 1321.7,1370.3" stroke="#6b6b6b" stroke-width="1.5"/>
<polygon points="1289.9,1378.2 1323.4,1374.2 1323.4,1377.2 1289.9,1381.2" fill="#d9d9d9"/>
<path d="M 1291.6,1381.7 L 1321.7,1377.7" stroke="#6b6b6b" stroke-width="1.5"/>
<polygon points="1289.9,1385.6 1323.4,1381.6 1323.4,1384.6 1289.9,1388.6" fill="#d9d9d9"/>
<path d="M 1291.6,1389.1 L 1321.7,1385.1" stroke="#6b6b6b" stroke-width="1.5"/>
<polygon points="1292.6,1393.0 1320.7,1389.0 1320.7,1392.0 1292.6,1396.0" fill="#d9d9d9"/>
<path d="M 1294.0,1396.5 L 1319.3,1392.5" stroke="#6b6b6b" stroke-width="1.5"/>
<polygon points="1296.0,1400.4 1317.3,1396.4 1317.3,1399.4 1296.0,1403.4" fill="#d9d9d9"/>
<path d="M 1297.0,1403.9 L 1316.3,1399.9" stroke="#6b6b6b" stroke-width="1.5"/>
<polygon points="1299.3,1407.8 1314.0,1403.8 1314.0,1406.8 1299.3,1410.8" fill="#d9d9d9"/>
<path d="M 1300.0,1411.3 L 1313.3,1407.3" stroke="#6b6b6b" stroke-width="1.5"/>
<polygon points="1302.7,1415.2 1310.6,1411.2 1310.6,1414.2 1302.7,1418.2" fill="#d9d9d9"/>
<path d="M 1303.1,1418.7 L 1310.2,1414.7" stroke="#6b6b6b" stroke-width="1.5"/>
<path d="M 1166,1196 L 1202,1196 L 1202,1374 Q 1198,1395 1186,1424 L 1182,1424 Q 1170,1395 1167,1374 Z" fill="#f3f3ee" stroke="#d0d0c8" stroke-width="1.6"/>
<path d="M 1142,1181 Q 1180,1176 1223,1179 Q 1212,1192 1200,1197 L 1168,1197 Q 1152,1190 1142,1181 Z" fill="#f3f3ee" stroke="#d0d0c8" stroke-width="1.6"/>
<path d="M 1136,1178 L 1136,1196" stroke="#bdbdb5" stroke-width="1.5"/>
<path d="M 1168,1194 Q 1150,1197 1146,1204 Q 1150,1215 1200,1227 L 1200,1217 Q 1185,1208 1168,1194 Z" fill="#f3f3ee" stroke="#d0d0c8" stroke-width="1.6"/>
<path d="M 1170,1216 Q 1200,1215 1221,1223 Q 1216,1233 1180,1237 L 1170,1229 Z" fill="#f3f3ee" stroke="#d0d0c8" stroke-width="1.6"/>
<path d="M 1168,1233 Q 1150,1236 1146,1243 Q 1150,1254 1200,1266 L 1200,1256 Q 1185,1247 1168,1233 Z" fill="#f3f3ee" stroke="#d0d0c8" stroke-width="1.6"/>
<path d="M 1170,1254 Q 1200,1253 1221,1261 Q 1216,1271 1180,1275 L 1170,1267 Z" fill="#f3f3ee" stroke="#d0d0c8" stroke-width="1.6"/>
<path d="M 1168,1271 Q 1150,1274 1146,1281 Q 1150,1292 1200,1304 L 1200,1294 Q 1185,1285 1168,1271 Z" fill="#f3f3ee" stroke="#d0d0c8" stroke-width="1.6"/>
<path d="M 1170,1291 Q 1200,1290 1221,1298 Q 1216,1308 1180,1312 L 1170,1304 Z" fill="#f3f3ee" stroke="#d0d0c8" stroke-width="1.6"/>
<path d="M 1196,1310 Q 1199,1360 1190,1405 L 1184,1420" fill="none" stroke="#dcdcd4" stroke-width="2"/>
<path d="M 1401,1193 Q 1401,1182 1413,1182 L 1446,1182 Q 1458,1182 1457,1193 L 1455,1205 L 1454,1268 L 1452,1300 L 1452,1398 Q 1450,1416 1430,1417 Q 1411,1416 1409,1398 L 1407,1300 L 1404,1268 L 1403,1205 Z" fill="#dedbd6"/>
<path d="M 1390,1270 L 1396,1263 L 1419,1293 L 1414,1300 Z" fill="#d8d5cf"/>
<path d="M 1468,1270 L 1462,1263 L 1441,1293 L 1446,1300 Z" fill="#d8d5cf"/>
<path d="M 1406,1318 L 1416,1324 L 1406,1330 Z" fill="#ffffff"/>
<path d="M 1454,1318 L 1445,1324 L 1454,1330 Z" fill="#ffffff"/>
<path d="M 1406,1340 L 1416,1346 L 1406,1352 Z" fill="#ffffff"/>
<path d="M 1454,1340 L 1445,1346 L 1454,1352 Z" fill="#ffffff"/>
<path d="M 1406,1362 L 1416,1368 L 1406,1374 Z" fill="#ffffff"/>
<path d="M 1454,1362 L 1445,1368 L 1454,1374 Z" fill="#ffffff"/>
<path d="M 1406,1384 L 1416,1390 L 1406,1396 Z" fill="#ffffff"/>
<path d="M 1454,1384 L 1445,1390 L 1454,1396 Z" fill="#ffffff"/>
<path d="M 1432.6,1229 L 1433.5,1412" stroke="#7a6a4a" stroke-width="3.2"/>
<path d="M 1404,1200 L 1406,1260" stroke="#cfccc5" stroke-width="3" opacity="0.8"/>
</svg></body></html>
